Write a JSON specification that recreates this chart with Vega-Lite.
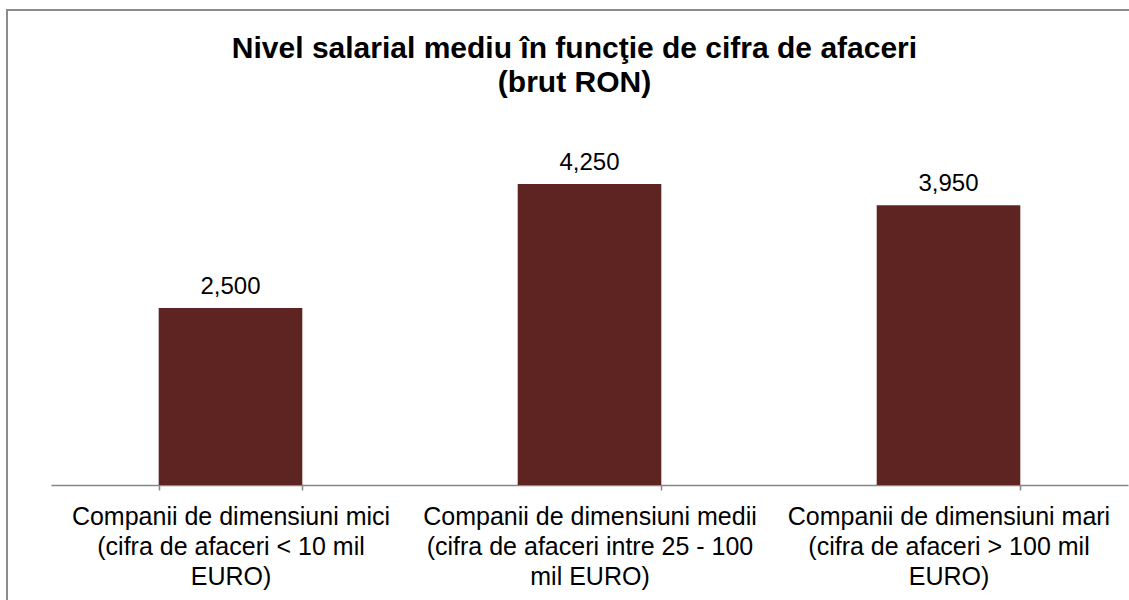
{
  "$schema": "https://vega.github.io/schema/vega-lite/v6.json",
  "autosize": {"type": "none"},
  "width": 1135,
  "height": 600,
  "padding": {"left": 7, "top": 10, "right": 0, "bottom": 0},
  "background": "white",
  "config": {
    "view": {"stroke": "#8c8c8c", "strokeWidth": 2},
    "font": "Liberation Sans"
  },
  "title": {
    "text": ["Nivel salarial mediu în funcţie de cifra de afaceri", "(brut RON)"],
    "font": "Liberation Sans",
    "fontSize": 30,
    "fontWeight": "bold",
    "color": "#000000",
    "lineHeight": 34,
    "anchor": "middle",
    "offset": 0,
    "dy": 88
  },
  "data": {
    "values": [
      {"categorie": "Companii de dimensiuni mici|(cifra de afaceri < 10 mil|EURO)", "salariu": 2500},
      {"categorie": "Companii de dimensiuni medii|(cifra de afaceri intre 25 - 100|mil EURO)", "salariu": 4250},
      {"categorie": "Companii de dimensiuni mari|(cifra de afaceri > 100 mil|EURO)", "salariu": 3950}
    ]
  },
  "encoding": {
    "x": {
      "field": "categorie",
      "type": "nominal",
      "sort": null,
      "scale": {"range": [44, 1121], "paddingInner": 0.6, "paddingOuter": 0.3},
      "axis": {
        "title": null,
        "offset": -125,
        "labelAngle": 0,
        "labelExpr": "split(datum.label, '|')",
        "labelFont": "Liberation Sans",
        "labelFontSize": 25,
        "labelLineHeight": 30,
        "labelColor": "#000000",
        "labelPadding": 14,
        "labelLimit": 0,
        "tickBand": "extent",
        "tickSize": 5,
        "tickColor": "#868686",
        "tickWidth": 1.5,
        "domainColor": "#868686",
        "domainWidth": 1.5
      }
    },
    "y": {
      "field": "salariu",
      "type": "quantitative",
      "scale": {"domain": [0, 5000], "range": [475, 121], "nice": false},
      "axis": null
    }
  },
  "layer": [
    {"mark": {"type": "bar", "color": "#5e2421"}},
    {
      "mark": {"type": "text", "baseline": "alphabetic", "dy": -14, "fontSize": 24, "font": "Liberation Sans", "color": "#000000"},
      "encoding": {"text": {"field": "salariu", "type": "quantitative", "format": ","}}
    }
  ]
}
